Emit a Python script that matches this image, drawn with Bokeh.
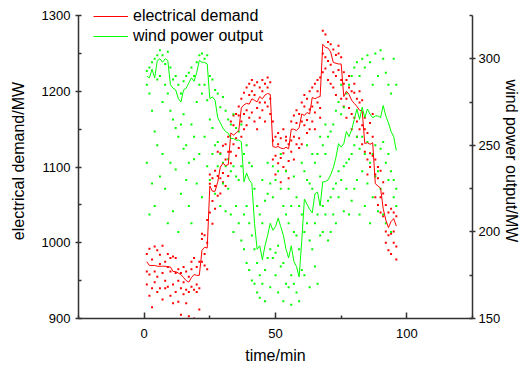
from bokeh.plotting import figure
from bokeh.models import Range1d, LinearAxis, FixedTicker, Legend, LegendItem
from bokeh.embed import file_html
from bokeh.resources import INLINE

minutes = list(range(1, 97))

demand = [975, 970, 970, 970, 969, 969, 969, 969, 968, 968,
          962, 962, 960, 958, 954, 950, 948, 954, 958, 957,
          957, 990, 994, 993, 1075, 1068, 1068, 1080, 1100, 1105,
          1102, 1103, 1145, 1142, 1145, 1148, 1178, 1182, 1184, 1183,
          1190, 1188, 1186, 1193, 1190, 1195, 1197, 1196, 1127, 1126,
          1127, 1125, 1124, 1126, 1124, 1150, 1150, 1148, 1152, 1170,
          1168, 1172, 1170, 1192, 1190, 1192, 1193, 1262, 1258, 1257,
          1252, 1238, 1237, 1236, 1236, 1193, 1200, 1196, 1188, 1184,
          1180, 1175, 1174, 1131, 1132, 1130, 1132, 1078, 1075, 1072,
          1045, 1030, 1020, 1028, 1032, 1022]

wind = [290, 289, 294, 289, 299, 300, 298, 300, 299, 285,
        283, 282, 277, 275, 282, 283, 286, 289, 287, 292,
        299, 298, 298, 297, 277, 278, 276, 266, 263, 260,
        258, 257, 254, 254, 253, 253, 252, 229, 234, 230,
        228, 205, 190, 192, 184, 192, 198, 205, 201, 203,
        208, 203, 198, 190, 185, 192, 183, 180, 174, 195,
        219, 216, 213, 211, 222, 223, 215, 229, 229, 230,
        233, 237, 243, 251, 249, 251, 258, 255, 259, 265,
        271, 265, 272, 266, 271, 268, 266, 267, 267, 266,
        273, 267, 263, 258, 255, 247]

demand_pts_a = [985, 992, 978, 995, 990, 984, 996, 975, 985, 962,
                982, 980, 965, 960, 968, 962, 955, 975, 980, 968,
                975, 1005, 1010, 1000, 1078, 1085, 1095, 1088, 1118, 1128,
                1130, 1120, 1160, 1155, 1170, 1168, 1190, 1198, 1205, 1210,
                1200, 1208, 1212, 1205, 1215, 1210, 1218, 1212, 1135, 1140,
                1130, 1138, 1118, 1135, 1130, 1160, 1168, 1158, 1170, 1185,
                1180, 1190, 1176, 1205, 1210, 1200, 1218, 1280, 1275, 1265,
                1262, 1255, 1248, 1250, 1245, 1210, 1215, 1205, 1200, 1198,
                1190, 1185, 1188, 1150, 1145, 1158, 1140, 1090, 1085, 1095,
                1065, 1050, 1040, 1045, 1040, 1035]
demand_pts_b = [945, 958, 940, 962, 955, 940, 925, 950, 942, 930,
                945, 935, 922, 905, 932, 920, 903, 942, 938, 935,
                912, 975, 985, 1030, 1040, 1055, 1045, 1062, 1085, 1092,
                1110, 1088, 1120, 1130, 1138, 1125, 1160, 1170, 1175, 1165,
                1172, 1160, 1178, 1185, 1175, 1185, 1180, 1190, 1110, 1115,
                1105, 1112, 1100, 1095, 1108, 1135, 1140, 1130, 1138, 1160,
                1155, 1162, 1150, 1180, 1172, 1185, 1178, 1250, 1245, 1240,
                1235, 1225, 1220, 1228, 1215, 1180, 1190, 1178, 1170, 1165,
                1160, 1150, 1155, 1120, 1110, 1118, 1115, 1060, 1050, 1060,
                1035, 1015, 1010, 1012, 1015, 995]
demand_pts_c = [962, 930, 915, 948, 935, 972, 960, 940, 968, 980,
                920, 960, 950, 940, 948, 938, 935, 965, 900, 945,
                940, 1012, 970, 965, 1090, 1025, 1075, 1120, 1065, 1080,
                1075, 1140, 1105, 1168, 1115, 1180, 1140, 1150, 1155, 1195,
                1215, 1195, 1150, 1165, 1200, 1160, 1205, 1170, 1160, 1090,
                1145, 1080, 1150, 1140, 1085, 1120, 1110, 1175, 1125, 1130,
                1195, 1145, 1200, 1160, 1150, 1215, 1165, 1225, 1230, 1215,
                1210, 1205, 1195, 1260, 1190, 1225, 1165, 1220, 1150, 1210,
                1140, 1200, 1130, 1165, 1090, 1100, 1170, 1110, 1100, 1040,
                1080, 1000, 990, 985, 1000, 978]

wind_pts_a = [293, 295, 298, 300, 302, 305, 302, 297, 304, 295,
              288, 290, 285, 280, 287, 290, 292, 295, 290, 298,
              302, 303, 300, 302, 290, 288, 282, 280, 272, 278,
              270, 265, 262, 268, 260, 258, 262, 245, 250, 240,
              238, 225, 215, 210, 205, 218, 222, 228, 220, 230,
              235, 225, 215, 210, 205, 215, 200, 198, 190, 210,
              235, 230, 228, 225, 240, 245, 232, 250, 245, 255,
              258, 262, 270, 275, 268, 272, 280, 285, 290, 295,
              298, 290, 300, 295, 302, 298, 285, 303, 290, 305,
              300, 292, 285, 280, 300, 285]
wind_pts_b = [285, 280, 270, 258, 288, 290, 275, 285, 280, 270,
              265, 260, 255, 262, 268, 250, 240, 262, 255, 275,
              285, 280, 285, 276, 265, 260, 250, 252, 245, 240,
              238, 242, 235, 238, 232, 230, 238, 210, 215, 205,
              198, 190, 182, 175, 170, 178, 185, 190, 185, 188,
              192, 180, 182, 170, 168, 175, 170, 165, 160, 178,
              200, 205, 195, 190, 205, 210, 198, 215, 210, 218,
              220, 225, 228, 235, 230, 238, 240, 242, 245, 250,
              255, 248, 255, 245, 252, 240, 245, 250, 235, 248,
              252, 240, 245, 235, 230, 225]
wind_pts_c = [240, 210, 228, 215, 250, 232, 245, 225, 205, 240,
              212, 236, 200, 222, 248, 230, 215, 205, 242, 228,
              245, 220, 255, 238, 230, 245, 222, 238, 215, 228,
              212, 225, 210, 200, 215, 205, 195, 190, 182, 178,
              172, 170, 165, 162, 230, 160, 240, 168, 238, 175,
              165, 245, 160, 235, 225, 158, 232, 220, 215, 240,
              175, 250, 168, 245, 180, 170, 255, 200, 262, 195,
              200, 210, 205, 220, 285, 212, 225, 210, 218, 225,
              230, 210, 235, 215, 228, 205, 220, 232, 212, 225,
              210, 205, 230, 200, 220, 215]

x_major = [0, 50, 100]
x_minor = [-25, 25, 75, 125]
y_major = [900, 1000, 1100, 1200, 1300]
y_minor = [950, 1050, 1150, 1250]
w_major = [150, 200, 250, 300]
w_minor = [175, 225, 275, 325]

FONT = "Liberation Sans"
AXC = "#333333"

# frame extends 12px above the axes' top so the legend is not clipped
FH = 315
y_top = 900 + FH * 400 / 303
w_top = 150 + FH * 175 / 303

p = figure(frame_width=394, frame_height=FH,
           min_border_left=78, min_border_right=48,
           min_border_top=3, min_border_bottom=49,
           x_range=Range1d(-25, 125), y_range=Range1d(900, y_top),
           output_backend="svg", toolbar_location=None)
p.extra_y_ranges = {"wind": Range1d(150, w_top)}
p.xgrid.visible = False
p.ygrid.visible = False
p.outline_line_color = None

xs3 = minutes + minutes + minutes
p.scatter(xs3, demand_pts_a + demand_pts_b + demand_pts_c, marker="square",
          size=2, color="#ff0000", line_width=0)
p.scatter(xs3, wind_pts_a + wind_pts_b + wind_pts_c, marker="square",
          size=2, color="#00ff00", line_width=0, y_range_name="wind")
r_dem = p.line(minutes, demand, line_color="#ff0000", line_width=1)
r_wind = p.line(minutes, wind, line_color="#00ff00", line_width=1,
                y_range_name="wind")

def style(ax, tin, tout):
    ax.axis_line_color = AXC
    ax.axis_line_width = 1.5
    ax.major_tick_line_color = AXC
    ax.minor_tick_line_color = AXC
    ax.major_tick_line_width = 1.5
    ax.minor_tick_line_width = 1.5
    ax.major_tick_in = tin
    ax.major_tick_out = tout
    ax.minor_tick_in = 3
    ax.minor_tick_out = 0
    ax.major_label_text_font = FONT
    ax.major_label_text_font_size = "13px"
    ax.major_label_text_color = "#000000"
    ax.axis_label_text_font = FONT
    ax.axis_label_text_font_size = "16px"
    ax.axis_label_text_font_style = "normal"
    ax.axis_label_text_color = "#000000"

xa = p.xaxis[0]
xa.ticker = FixedTicker(ticks=x_major, minor_ticks=x_minor)
xa.axis_label = "time/min"
style(xa, 6, 0)
xa.major_label_standoff = 10
xa.axis_label_standoff = 6

ya = p.yaxis[0]
ya.ticker = FixedTicker(ticks=y_major, minor_ticks=y_minor)
ya.axis_label = "electrical demand/MW"
ya.bounds = (900, 1300)
style(ya, 3, 3)
ya.major_label_standoff = 5
ya.axis_label_standoff = 12

wa = LinearAxis(y_range_name="wind",
                ticker=FixedTicker(ticks=w_major, minor_ticks=w_minor),
                axis_label="wind power output/MW", bounds=(150, 325))
style(wa, 3, 3)
wa.major_label_standoff = 3
wa.axis_label_standoff = 0
p.add_layout(wa, "right")

legend = Legend(items=[LegendItem(label="electrical demand", renderers=[r_dem]),
                       LegendItem(label="wind power output", renderers=[r_wind])],
                location=(15, 272), glyph_width=35, glyph_height=20,
                label_height=20, label_standoff=5, padding=0, spacing=0,
                margin=0, border_line_alpha=0, background_fill_alpha=0,
                label_text_font=FONT, label_text_font_size="16px",
                label_text_color="#000000")
p.add_layout(legend)

open("out.html", "w").write(file_html(p, INLINE))
